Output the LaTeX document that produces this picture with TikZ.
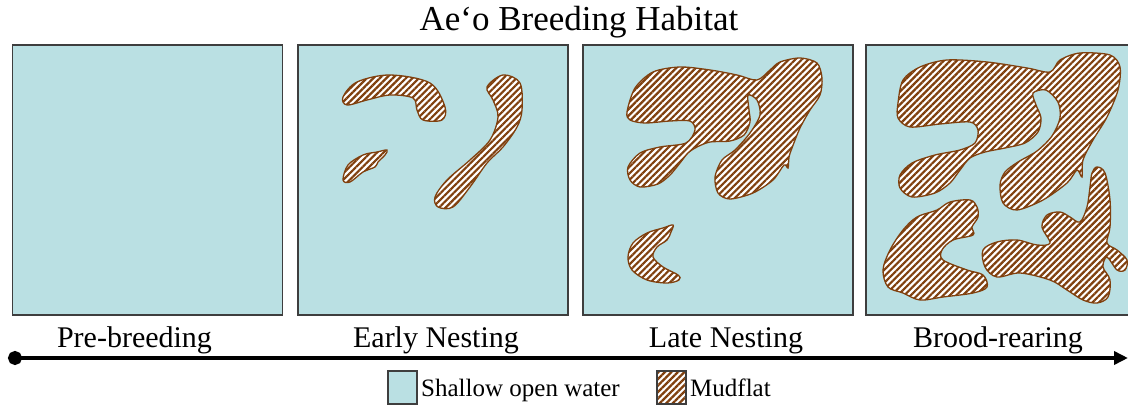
\documentclass[tikz,border=0pt]{standalone}
\usepackage{fontspec}
\setmainfont{Liberation Serif}
\usepackage{tikz}
\usetikzlibrary{arrows.meta,patterns.meta}
\definecolor{water}{RGB}{186,224,227}
\definecolor{mud}{RGB}{128,64,14}
\definecolor{frame}{RGB}{62,62,62}

\begin{document}
\begin{tikzpicture}[x=1pt, y=-1pt,
    panel/.style={draw=frame, line width=1.8pt, fill=water, minimum width=270pt, minimum height=270pt, inner sep=0pt},
    mudflat/.style={draw=mud, line width=1.3pt, preaction={fill=white},
      pattern={Lines[angle=45,distance=4.6pt,line width=2.2pt]}, pattern color=mud},
    stage/.style={anchor=base, font=\fontsize{30}{36}\selectfont},
    legbox/.style={draw=frame, line width=1.2pt, minimum width=29pt, minimum height=33pt, inner sep=0pt},
    legtext/.style={anchor=base west, inner sep=0pt, font=\fontsize{25}{30}\selectfont}]
  \path[use as bounding box, clip] (0,0) rectangle (1128,406);

  \node[anchor=base, font=\fontsize{35}{42}\selectfont] (title) at (579,31) {Aeʻo Breeding Habitat};

  \node[panel] (prebreeding) at (147.5,180) {};
  \node[panel] (early) at (433,180) {};
  \node[panel] (late) at (718,180) {};
  \node[panel] (brood) at (1001,180) {};

  % early nesting
  \draw[mudflat] plot[smooth cycle, tension=0.55] coordinates {(343,97) (357,82) (390,75) (430,83) (445,107) (442,120) (423,120) (417,110) (413,98) (390,95) (367,100) (347,105)};
  \draw[mudflat] plot[smooth cycle, tension=0.55] coordinates {(343,180) (348,165) (363,155) (377,152) (387,150) (385,155) (378,162) (375,167) (363,172) (350,182)};
  \draw[mudflat] plot[smooth cycle, tension=0.55] coordinates {(503,75) (520,83) (522,110) (517,127) (503,147) (487,163) (470,187) (453,207) (438,207) (435,197) (447,180) (470,160) (490,140) (498,117) (493,100) (487,87)};

  % late nesting
  \draw[mudflat] plot[smooth cycle, tension=0.5] coordinates {(627,112) (635,88) (653,72) (680,67) (710,70) (737,75) (757,80) (770,70) (780,62) (800,58) (817,63) (822,78) (820,95) (810,110) (800,128) (792,148) (789,157) (788,168) (784,165) (773,180) (753,193) (730,199) (718,193) (715,177) (722,160) (735,150) (750,133) (760,115) (757,100) (748,95) (749,110) (750,122) (744,135) (730,141) (710,142) (697,147) (688,153) (680,163) (670,175) (658,184) (640,187) (630,180) (628,167) (640,153) (660,147) (686,143) (695,130) (690,121) (670,121) (645,123) (630,120)};
  \draw[mudflat] plot[smooth cycle, tension=0.55] coordinates {(673,225) (663,228) (647,233) (633,243) (628,257) (632,270) (647,280) (667,283) (679,280) (678,275) (663,267) (653,257) (657,247) (667,240) (671,232)};

  % brood-rearing
  \draw[mudflat] plot[smooth cycle, tension=0.5] coordinates {(898,103) (903,80) (920,67) (947,60) (987,62) (1027,68) (1050,72) (1060,60) (1080,53) (1110,55) (1120,67) (1118,90) (1107,117) (1093,140) (1083,160) (1082,177) (1077,170) (1067,183) (1043,200) (1017,210) (1003,203) (1000,185) (1005,172) (1018,162) (1037,151) (1052,136) (1060,118) (1058,102) (1046,90) (1033,93) (1036,105) (1041,118) (1038,132) (1025,143) (1005,148) (985,152) (970,158) (960,170) (950,183) (935,193) (912,197) (900,188) (900,175) (912,163) (935,155) (960,150) (975,143) (978,130) (970,122) (940,124) (910,127) (898,118)};
  \draw[mudflat] plot[smooth cycle, tension=0.55] coordinates {(970,200) (977,207) (978,217) (972,227) (973,235) (953,240) (942,250) (943,260) (967,270) (983,275) (987,287) (973,293) (943,297) (920,300) (903,293) (888,287) (883,270) (890,250) (903,230) (917,217) (937,210) (950,202)};
  \draw[mudflat] plot[smooth cycle, tension=0.55] coordinates {(1097,167) (1105,173) (1110,200) (1110,227) (1107,243) (1117,250) (1127,260) (1125,270) (1117,270) (1107,257) (1103,267) (1110,280) (1108,297) (1097,303) (1083,300) (1067,290) (1050,280) (1020,273) (997,277) (985,267) (983,250) (997,242) (1017,240) (1037,245) (1050,243) (1042,227) (1047,215) (1060,212) (1070,217) (1080,222) (1087,207) (1090,187) (1092,173)};

  \node[stage] (prelabel) at (134.5,347) {Pre-breeding};
  \node[stage] (earlylabel) at (436,347) {Early Nesting};
  \node[stage] (latelabel) at (726,347) {Late Nesting};
  \node[stage] (broodlabel) at (998,347) {Brood-rearing};

  \coordinate (tlstart) at (8,358);
  \coordinate (tlend) at (1128,358);
  \draw[line width=3.8pt, {Circle[length=14pt]}-{Triangle[length=14pt,width=13pt]}] (tlstart) -- (tlend);

  \node[legbox, fill=water] (waterkey) at (402.5,387.5) {};
  \node[legtext] (watertext) at (421,396) {Shallow open water};
  \node[legbox, mudflat, draw=frame] (mudkey) at (671.5,387.5) {};
  \node[legtext] (mudtext) at (690,396) {Mudflat};
\end{tikzpicture}
\end{document}
